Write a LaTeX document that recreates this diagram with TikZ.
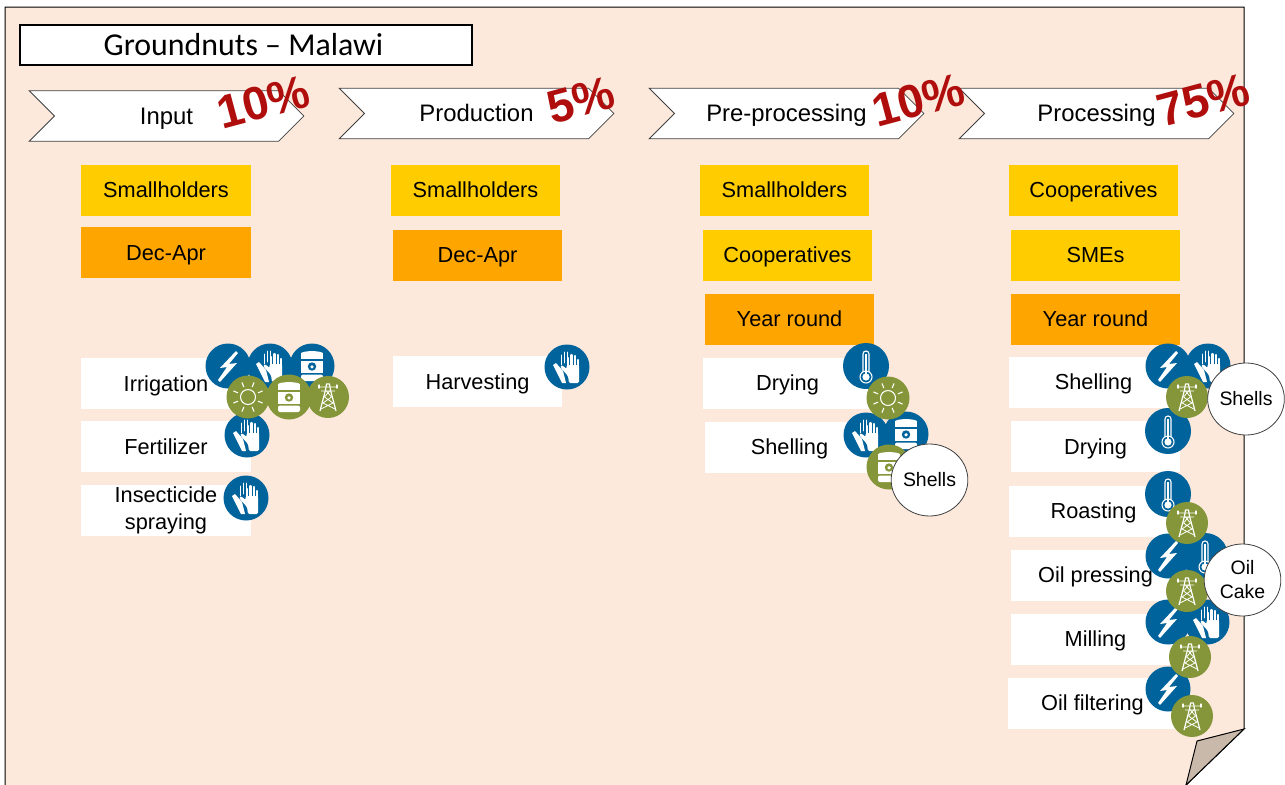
\documentclass[tikz,border=0pt]{standalone}
\usepackage{fontspec}
\usepackage{tikz}
\usetikzlibrary{shapes.symbols,shapes.geometric}
\setmainfont{Liberation Sans}
\newfontfamily\titlefont{Carlito}

\definecolor{pagepeach}{HTML}{FDE9DC}
\definecolor{foldtan}{HTML}{C9B9AB}
\definecolor{boxyellow}{HTML}{FFCC00}
\definecolor{boxorange}{HTML}{FFA500}
\definecolor{iconblue}{HTML}{00639B}
\definecolor{icongreen}{HTML}{85963A}
\definecolor{sharered}{HTML}{B00D0D}

\tikzset{
  labelbox/.style={inner sep=0pt,minimum width=127pt,minimum height=38.25pt,align=center,
    font=\fontsize{16.3}{20}\selectfont,execute at begin node={\rule[-4pt]{0pt}{19.5pt}}},
  actorbox/.style={labelbox,fill=boxyellow},
  seasonbox/.style={labelbox,fill=boxorange},
  activitybox/.style={labelbox,fill=white},
  stagebox/.style={signal,signal to=east,signal from=west,signal pointer angle=90,draw=black!75,
    fill=white,inner sep=0pt,minimum width=206pt,minimum height=38pt,line width=0.6pt,
    font=\fontsize{17.9}{21}\selectfont,execute at begin node={\rule[-4pt]{0pt}{20pt}}},
  sharetext/.style={inner sep=0pt,rotate=15,text=sharered,font=\fontsize{35}{40}\selectfont\bfseries},
  bubble/.style={ellipse,draw=black!75,fill=white,line width=0.6pt,inner sep=0pt,
    minimum width=57.5pt,minimum height=54pt,align=center,font=\fontsize{14.6}{18}\selectfont},
  every pic/.style={yscale=-1},
  iconbolt/.pic={
    \fill[iconblue] (0,0) circle (22.5);
    \fill[white] (8,-15) -- (-8,2) -- (-1,1) -- (-10,14) -- (-8,16) -- (9,-3) -- (1,-2) -- (10,-13) -- cycle;
  },
  iconglove/.pic={
    \fill[iconblue] (0,0) circle (22.5);
    % back hand
    \fill[white] (-14,-2) -- (-11,-4) -- (-4,4) -- (-1,16) -- (-5,16) -- cycle;
    \draw[white,line width=0.6pt,line cap=round] (-6,-2) -- (-6,-12) (-3,-4) -- (-3,-15) (0,-4) -- (0,-15);
    % front hand
    \fill[white,rounded corners=1pt] (-7,0) -- (-5,-2) -- (-0.5,2) -- (-0.5,-2) -- (12,-2) -- (12,16) -- (2,16) -- (1,9) -- cycle;
    \draw[white,line width=1.7pt,line cap=round] (1,0) -- (1,-9) (4.5,0) -- (4.5,-12) (8,0) -- (8,-11) (11,0) -- (11,-7);
  },
  iconbarrel/.pic={
    \fill[#1] (0,0) circle (22.5);
    \fill[white] (0,-12.5) ellipse (11 and 2.4);
    \fill[white] (-11,-12) rectangle (11,-7);
    \fill[white] (-11,-5) rectangle (11,6.5);
    \fill[white,rounded corners=1.5pt] (-11,8.5) rectangle (11,15);
    \fill[#1] (0,0.5) circle (4.2);
    \fill[white] (0,0.8) circle (1.8);
  },
  iconsun/.pic={
    \fill[icongreen] (0,0) circle (21.5);
    \draw[white,line width=0.8pt] (0,0) circle (7.5);
    \foreach \rayang in {22.5,67.5,...,337.5}
      \draw[white,line width=0.8pt,line cap=round] (\rayang:11) -- (\rayang:15.5);
  },
  icontower/.pic={
    \fill[icongreen] (0,0) circle (21);
    \draw[white,line width=0.9pt,line join=round] (-8,14) -- (-2.5,-7) -- (-1.5,-13) -- (1.5,-13) -- (2.5,-7) -- (8,14);
    \draw[white,line width=0.6pt] (-9,-10) -- (9,-10) (-7,-6) -- (7,-6) (-2.5,-7) -- (3.5,0) -- (-5,6) -- (7,12)
      (2.5,-7) -- (-3.5,0) -- (5,6) -- (-7,12);
    \draw[white,line width=1pt,line cap=round] (-9,-12) -- (-9,-9) (9,-12) -- (9,-9);
  },
  iconthermo/.pic={
    \fill[iconblue] (0,0) circle (23);
    \draw[white,line width=0.8pt,rounded corners=2.2pt] (-3,6) -- (-3,-15) -- (3,-15) -- (3,6);
    \draw[white,line width=0.8pt] (0,11) circle (6);
    \fill[white] (0,11) circle (3.6);
    \draw[white,line width=1pt] (0,-12) -- (0,8);
  },
}

\begin{document}
\begin{tikzpicture}[x=0.75pt,y=0.75pt,yscale=-1,xscale=1]
  \useasboundingbox (0,0) rectangle (1285,785);

  % Page sheet
  \draw[fill=pagepeach,line width=0.75pt] (5,795) -- (5,7) -- (1244,7) -- (1244,729) -- (1186,785) -- (1180,795) -- cycle;
  \draw[fill=foldtan,line width=0.75pt] (1244,729) -- (1197,741) -- (1186,785) -- cycle;

  % Title
  \node[draw=black,fill=white,line width=1.5pt,inner sep=0pt,minimum width=339pt,minimum height=30pt,
    font=\titlefont\fontsize{23.9}{28}\selectfont] (title) at (246,44.5) {Groundnuts – Malawi\kern3.75pt};

  % Stages
  \node[stagebox] (input) at (166.5,116) {Input};
  \node[stagebox] (production) at (476.5,113.5) {Production};
  \node[stagebox] (preprocessing) at (786.5,113.5) {Pre-processing};
  \node[stagebox] (processing) at (1096.5,113.5) {Processing};

  % Shares
  \node[sharetext] (shareinput) at (263,102) {10\%};
  \node[sharetext] (shareproduction) at (581,100) {5\%};
  \node[sharetext] (sharepre) at (918,100) {10\%};
  \node[sharetext] (shareprocessing) at (1203,100) {75\%};

  % Input column
  \node[actorbox] (inactor) at (166,190) {Smallholders};
  \node[seasonbox] (inseason) at (166,252.5) {Dec-Apr};
  \node[activitybox] (irrigation) at (166,383.5) {Irrigation};
  \node[activitybox] (fertilizer) at (166,446.5) {Fertilizer};
  \node[activitybox] (insecticide) at (166,510.5) {Insecticide\\spraying};

  % Production column
  \node[actorbox] (prodactor) at (475.5,190) {Smallholders};
  \node[seasonbox] (prodseason) at (477.5,255) {Dec-Apr};
  \node[activitybox] (harvesting) at (477.5,381.5) {Harvesting};

  % Pre-processing column
  \node[actorbox] (preactorone) at (784.5,190) {Smallholders};
  \node[actorbox] (preactortwo) at (787.5,255) {Cooperatives};
  \node[seasonbox] (preseason) at (789.5,319) {Year round};
  \node[activitybox] (predrying) at (787.5,383) {Drying};
  \node[activitybox] (preshelling) at (789.5,447) {Shelling};

  % Processing column
  \node[actorbox] (procactorone) at (1093.5,190) {Cooperatives};
  \node[actorbox] (procactortwo) at (1095.5,255) {SMEs};
  \node[seasonbox] (procseason) at (1095.5,319) {Year round};
  \node[activitybox] (procshelling) at (1093.5,382) {Shelling};
  \node[activitybox] (procdrying) at (1095.5,446.5) {Drying};
  \node[activitybox] (roasting) at (1093.5,511) {Roasting};
  \node[activitybox] (oilpressing) at (1095.5,575) {Oil pressing};
  \node[activitybox] (milling) at (1095.5,639) {Milling};
  \node[activitybox] (oilfiltering) at (1092.5,703) {Oil filtering};

  % Blue icons
  \pic at (228,366) {iconbolt};
  \pic at (270,366) {iconglove};
  \pic at (312,366) {iconbarrel=iconblue};
  \pic at (247,435) {iconglove};
  \pic at (246,498) {iconglove};
  \pic at (567,367) {iconglove};
  \pic at (866,366) {iconthermo};
  \pic at (866,435) {iconglove};
  \pic at (906,434) {iconbarrel=iconblue};
  \pic at (1168,366) {iconbolt};
  \pic at (1208,366) {iconglove};
  \pic at (1168,431) {iconthermo};
  \pic at (1168,494) {iconthermo};
  \pic at (1168,556) {iconbolt};
  \pic at (1205,556) {iconthermo};
  \pic at (1168,622) {iconbolt};
  \pic at (1207,622) {iconglove};
  \pic at (1168,689) {iconbolt};

  % Green icons
  \pic at (248,397) {iconsun};
  \pic at (289,397) {iconbarrel=icongreen};
  \pic at (328,397) {icontower};
  \pic at (888,398) {iconsun};
  \pic at (889,467) {iconbarrel=icongreen};
  \pic at (1187,397) {icontower};
  \pic at (1187,523) {icontower};
  \pic at (1187,591) {icontower};
  \pic at (1190,657) {icontower};
  \pic at (1192,716) {icontower};

  % By-products
  \node[bubble] (shellspre) at (929.5,480) {Shells};
  \node[bubble] (shellsproc) at (1246,399) {Shells};
  \node[bubble] (oilcake) at (1242.5,580) {Oil\\Cake};
\end{tikzpicture}
\end{document}
